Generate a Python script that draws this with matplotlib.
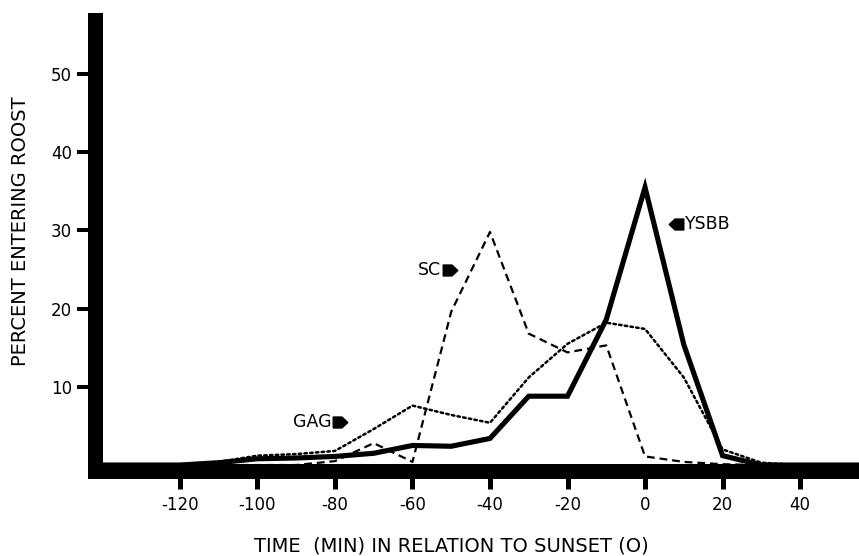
import matplotlib
matplotlib.use('Agg')
import matplotlib.pyplot as plt
from matplotlib.path import Path

# minutes relative to sunset
minutes = [-150, -140, -130, -120, -110, -100, -90, -80, -70, -60, -50, -40, -30, -20, -10, 0, 10, 20, 30, 40, 50, 60]
# percent entering roost
ysbb = [0, 0, 0, 0, 0.3, 0.8, 0.9, 1.1, 1.5, 2.5, 2.4, 3.4, 8.8, 8.8, 18.6, 35.5, 15.4, 1.2, 0, 0, 0, 0]
sc = [0, 0, 0, 0, 0, 0, 0, 0.5, 2.8, 0.4, 19.6, 29.8, 16.8, 14.4, 15.3, 1.1, 0.4, 0.1, 0, 0, 0, 0]
gag = [0, 0, 0, 0, 0.4, 1.2, 1.4, 1.8, 4.6, 7.6, 6.4, 5.4, 11.2, 15.5, 18.2, 17.4, 11.2, 2.0, 0.3, 0, 0, 0]

x_ticks = [-120, -100, -80, -60, -40, -20, 0, 20, 40]
x_tick_labels = ['-120', '-100', '-80', '-60', '-40', '-20', '0', '20', '40']
y_ticks = [10, 20, 30, 40, 50]
y_tick_labels = ['10', '20', '30', '40', '50']

# species tags: name, arrow position, pointing direction
tags = [('SC', -50.3, 24.9, 'right'),
        ('GAG', -78.6, 5.5, 'right'),
        ('YSBB', 8.0, 30.8, 'left')]

W, H = 859, 556
fig = plt.figure(figsize=(W / 100, H / 100), dpi=100)
ax = fig.add_axes([95 / W, 1 - 470.5 / H, 764 / W, 450 / H])

ax.plot(minutes, gag, color='black', lw=1.8, linestyle=(0, (1, 1.3)),
        dash_capstyle='round')
ax.plot(minutes, sc, color='black', lw=1.6, linestyle=(0, (3.5, 2.2)))
ax.plot(minutes, ysbb, color='black', lw=3.7, solid_joinstyle='miter')

# little "house" arrows next to the labels
right_arrow = Path([(-1, -0.75), (0.2, -0.75), (1, 0), (0.2, 0.75), (-1, 0.75), (-1, -0.75)],
                   [Path.MOVETO, Path.LINETO, Path.LINETO, Path.LINETO, Path.LINETO, Path.CLOSEPOLY])
left_arrow = Path([(1, -0.75), (-0.2, -0.75), (-1, 0), (-0.2, 0.75), (1, 0.75), (1, -0.75)],
                  [Path.MOVETO, Path.LINETO, Path.LINETO, Path.LINETO, Path.LINETO, Path.CLOSEPOLY])
for name, ax_x, ax_y, direction in tags:
    if direction == 'right':
        ax.plot([ax_x], [ax_y], marker=right_arrow, ms=10.5, color='black')
        ax.text(ax_x - 2.3, ax_y, name, ha='right', va='center', fontsize=12.5)
    else:
        ax.plot([ax_x], [ax_y], marker=left_arrow, ms=10.5, color='black')
        ax.text(ax_x + 2.3, ax_y, name, ha='left', va='center', fontsize=12.5)

ax.set_xlim(-141.9, 55.2)
ax.set_ylim(-0.7, 56.84)

for side in ['top', 'right']:
    ax.spines[side].set_visible(False)
for side in ['left', 'bottom']:
    ax.spines[side].set_linewidth(10.8)
    ax.spines[side].set_color('black')

ax.set_xticks(x_ticks)
ax.set_xticklabels(x_tick_labels)
ax.set_yticks(y_ticks)
ax.set_yticklabels(y_tick_labels)
ax.tick_params(axis='x', direction='out', length=13.3, width=3.6, pad=5, labelsize=12)
ax.tick_params(axis='y', direction='out', length=13, width=2.9, pad=3.6, labelsize=12)

ax.set_xlabel('TIME  (MIN) IN RELATION TO SUNSET (O)', fontsize=14, va='center')
ax.xaxis.set_label_coords(0.466, -0.168)
ax.set_ylabel('PERCENT ENTERING ROOST', fontsize=14, va='center')
ax.yaxis.set_label_coords(-0.098, 0.532)

plt.savefig('out.png', dpi=100)
plt.close()
